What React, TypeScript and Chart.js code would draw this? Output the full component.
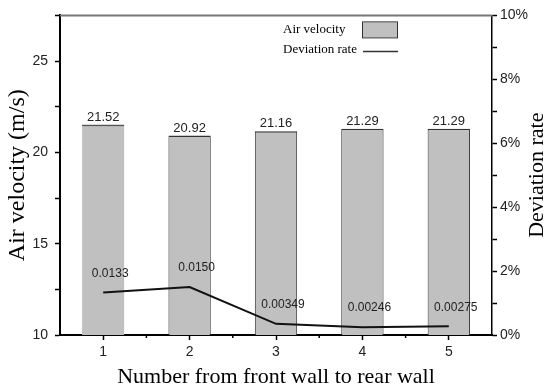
import React, { useEffect, useRef } from 'react';
import { Chart, registerables } from 'chart.js';

Chart.register(...registerables);

const categories = ['1', '2', '3', '4', '5'];
const airVelocity = [21.52, 20.92, 21.16, 21.29, 21.29];
const airVelocityLabels = ['21.52', '20.92', '21.16', '21.29', '21.29'];
const deviationRate = [0.0133, 0.015, 0.00349, 0.00246, 0.00275];
const deviationLabels = ['0.0133', '0.0150', '0.00349', '0.00246', '0.00275'];
const seriesNames = ['Air velocity', 'Deviation rate'];
const axisTitles = {
  x: 'Number from front wall to rear wall',
  y: 'Air velocity (m/s)',
  y1: 'Deviation rate',
};

const SANS = '"Liberation Sans", Arial, sans-serif';
const SERIF = '"Liberation Serif", "Times New Roman", serif';

const decor = {
  id: 'decor',
  afterDatasetsDraw(chart: any) {
    const { ctx, chartArea: ca } = chart;
    ctx.save();
    // top frame line
    ctx.strokeStyle = '#777';
    ctx.lineWidth = 2;
    ctx.beginPath();
    ctx.moveTo(ca.left, ca.top);
    ctx.lineTo(ca.right, ca.top);
    ctx.stroke();

    // minor x ticks between categories
    const barMeta = chart.getDatasetMeta(1);
    ctx.strokeStyle = '#000';
    ctx.lineWidth = 1.5;
    for (let i = 0; i < barMeta.data.length - 1; i++) {
      const mx = (barMeta.data[i].x + barMeta.data[i + 1].x) / 2;
      ctx.beginPath();
      ctx.moveTo(mx, ca.bottom);
      ctx.lineTo(mx, ca.bottom + 3);
      ctx.stroke();
    }

    // bar value labels
    ctx.fillStyle = '#222';
    ctx.font = `13px ${SANS}`;
    ctx.textAlign = 'center';
    ctx.textBaseline = 'bottom';
    barMeta.data.forEach((el: any, i: number) => {
      ctx.fillText(airVelocityLabels[i], el.x, el.y - 1);
    });

    // line value labels
    const lineMeta = chart.getDatasetMeta(0);
    ctx.font = `12px ${SANS}`;
    ctx.textBaseline = 'middle';
    lineMeta.data.forEach((el: any, i: number) => {
      ctx.fillText(deviationLabels[i], el.x + 7, el.y - 19);
    });

    // right axis title (reads bottom to top)
    ctx.save();
    ctx.translate(537, (ca.top + ca.bottom) / 2);
    ctx.rotate(-Math.PI / 2);
    ctx.fillStyle = '#000';
    ctx.font = `22px ${SERIF}`;
    ctx.textAlign = 'center';
    ctx.textBaseline = 'middle';
    ctx.fillText(axisTitles.y1, 0, 0);
    ctx.restore();

    // legend
    const lx = ca.left + 223;
    ctx.font = `13px ${SERIF}`;
    ctx.textAlign = 'left';
    ctx.textBaseline = 'middle';
    ctx.fillStyle = '#000';
    ctx.fillText(seriesNames[0], lx, ca.top + 14);
    ctx.fillText(seriesNames[1], lx, ca.top + 34);
    ctx.fillStyle = '#c0c0c0';
    ctx.fillRect(lx + 79, ca.top + 7, 35, 15);
    ctx.strokeStyle = '#333';
    ctx.lineWidth = 1;
    ctx.strokeRect(lx + 79.5, ca.top + 6.5, 35, 16);
    ctx.lineWidth = 1.5;
    ctx.beginPath();
    ctx.moveTo(lx + 80, ca.top + 36);
    ctx.lineTo(lx + 115, ca.top + 36);
    ctx.stroke();
    ctx.restore();
  },
};

export default function App() {
  const ref = useRef<HTMLCanvasElement>(null);
  useEffect(() => {
    if (!ref.current) return;
    const chart = new Chart(ref.current, {
      data: {
        labels: categories,
        datasets: [
          {
            type: 'line',
            label: seriesNames[1],
            data: deviationRate,
            yAxisID: 'y1',
            borderColor: '#111',
            borderWidth: 2,
            pointRadius: 0,
            tension: 0,
            order: 0,
          } as any,
          {
            type: 'bar',
            label: seriesNames[0],
            data: airVelocity,
            yAxisID: 'y',
            backgroundColor: '#c0c0c0',
            borderColor: (c: any) => (c.dataIndex === 0 ? '#555' : '#333'),
            borderWidth: (c: any) =>
              c.dataIndex === 0
                ? { top: 2, left: 0, right: 0, bottom: 0 }
                : { top: 1.5, left: 1, right: 1, bottom: 0 },
            borderSkipped: false,
            barPercentage: 0.49,
            categoryPercentage: 1,
            order: 1,
          } as any,
        ],
      },
      options: {
        responsive: false,
        animation: false,
        layout: { padding: { top: 14, left: 0, right: 0, bottom: 0 } },
        plugins: { legend: { display: false }, tooltip: { enabled: false } },
        scales: {
          x: {
            offset: true,
            grid: { display: true, drawOnChartArea: false, offset: false, tickLength: 5, tickColor: '#000', tickWidth: 1.5 },
            border: { color: '#000', width: 2 },
            ticks: { color: '#222', font: { family: SANS, size: 14 }, padding: 4 },
            title: { display: true, text: axisTitles.x, color: '#000', font: { family: SERIF, size: 22, lineHeight: 1.0 }, padding: 0 },
            afterFit: (s: any) => { s.height = 53; },
          },
          y: {
            position: 'left',
            min: 10,
            max: 27.5,
            grid: { drawOnChartArea: false, tickLength: 5, tickColor: '#000', tickWidth: 1.5 },
            border: { color: '#000', width: 2 },
            ticks: {
              stepSize: 2.5,
              color: '#222',
              font: { family: SANS, size: 14 },
              padding: 7,
              callback: (v: any) => (Number(v) % 5 === 0 && Number(v) <= 25 ? String(v) : ''),
            },
            title: { display: true, text: axisTitles.y, color: '#000', font: { family: SERIF, size: 24, lineHeight: 1.2 }, padding: { top: 3, bottom: 0 } },
            afterFit: (s: any) => { s.width = 60; },
          },
          y1: {
            position: 'right',
            min: 0,
            max: 0.1,
            grid: { drawOnChartArea: false, tickLength: 5, tickColor: '#000', tickWidth: 1.5 },
            border: { color: '#000', width: 1.5 },
            ticks: {
              stepSize: 0.01,
              color: '#222',
              font: { family: SANS, size: 14 },
              padding: 3,
              callback: (v: any) => {
                const p = Math.round(Number(v) * 100);
                return p % 2 === 0 ? p + '%' : '';
              },
            },
            title: { display: false },
            afterFit: (s: any) => { s.width = 58; },
          },
        },
      },
      plugins: [decor],
    } as any);
    return () => chart.destroy();
  }, []);
  return (
    <div style={{ position: 'fixed', left: 0, top: 0, width: 550, height: 388, background: '#fff' }}>
      <canvas ref={ref} width={550} height={388} />
    </div>
  );
}
